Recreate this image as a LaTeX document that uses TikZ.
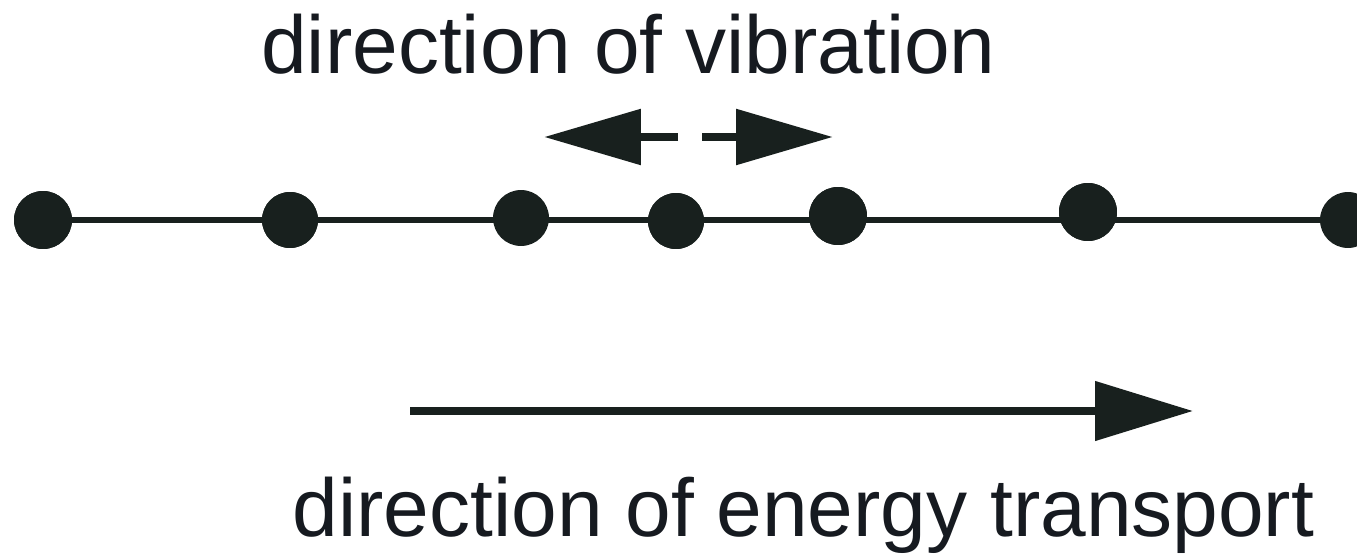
\documentclass[tikz,border=0pt]{standalone}
\usepackage{fontspec}
\setmainfont{Liberation Sans}
\usetikzlibrary{arrows.meta}
\definecolor{ink}{RGB}{24,32,30}
\definecolor{txt}{RGB}{22,26,32}
\begin{document}
\begin{tikzpicture}[x=0.02cm,y=-0.02cm,
  dot/.style={circle,fill=ink,inner sep=0pt,minimum size=#1*0.04cm},
  lbl/.style={inner sep=0pt,anchor=base,text=txt,font=\fontsize{46.7}{56}\selectfont},
  vib/.style={draw=ink,line width=0.18cm,-{Triangle[length=1.94cm,width=1.08cm]}},
  energy/.style={draw=ink,line width=0.16cm,-{Triangle[length=1.96cm,width=1.16cm]}}]
\useasboundingbox (0,0) rectangle (1357,554);
% chain of particles
\node[dot=29] (d1) at (43,220) {};
\node[dot=28] (d2) at (290,220) {};
\node[dot=27] (d3) at (521,218) {};
\node[dot=28] (d4) at (676,221) {};
\node[dot=29] (d5) at (838,216) {};
\node[dot=29] (d6) at (1088,212) {};
\node[dot=27] (d7) at (1348,220) {};
\draw[ink,line width=0.12cm] (d1.center) -- (d7.center);
\foreach \n in {d1,d2,d3,d4,d5,d6,d7} \node[dot=28] at (\n) {};
\node[dot=29] at (d1) {};
\node[dot=29] at (d5) {};
\node[dot=29] at (d6) {};
% vibration arrows
\coordinate (vls) at (678,137);
\coordinate (vle) at (544,137);
\coordinate (vrs) at (702,137);
\coordinate (vre) at (833,137);
\draw[vib] (vls) -- (vle);
\draw[vib] (vrs) -- (vre);
% energy transport arrow
\coordinate (es) at (410,411);
\coordinate (ee) at (1193,411);
\draw[energy] (es) -- (ee);
% labels
\node[lbl] (t1) at (628.5,74) {direction of vibration};
\node[lbl] (t2) at (803.5,536) {direction of energy transport};
\end{tikzpicture}
\end{document}
